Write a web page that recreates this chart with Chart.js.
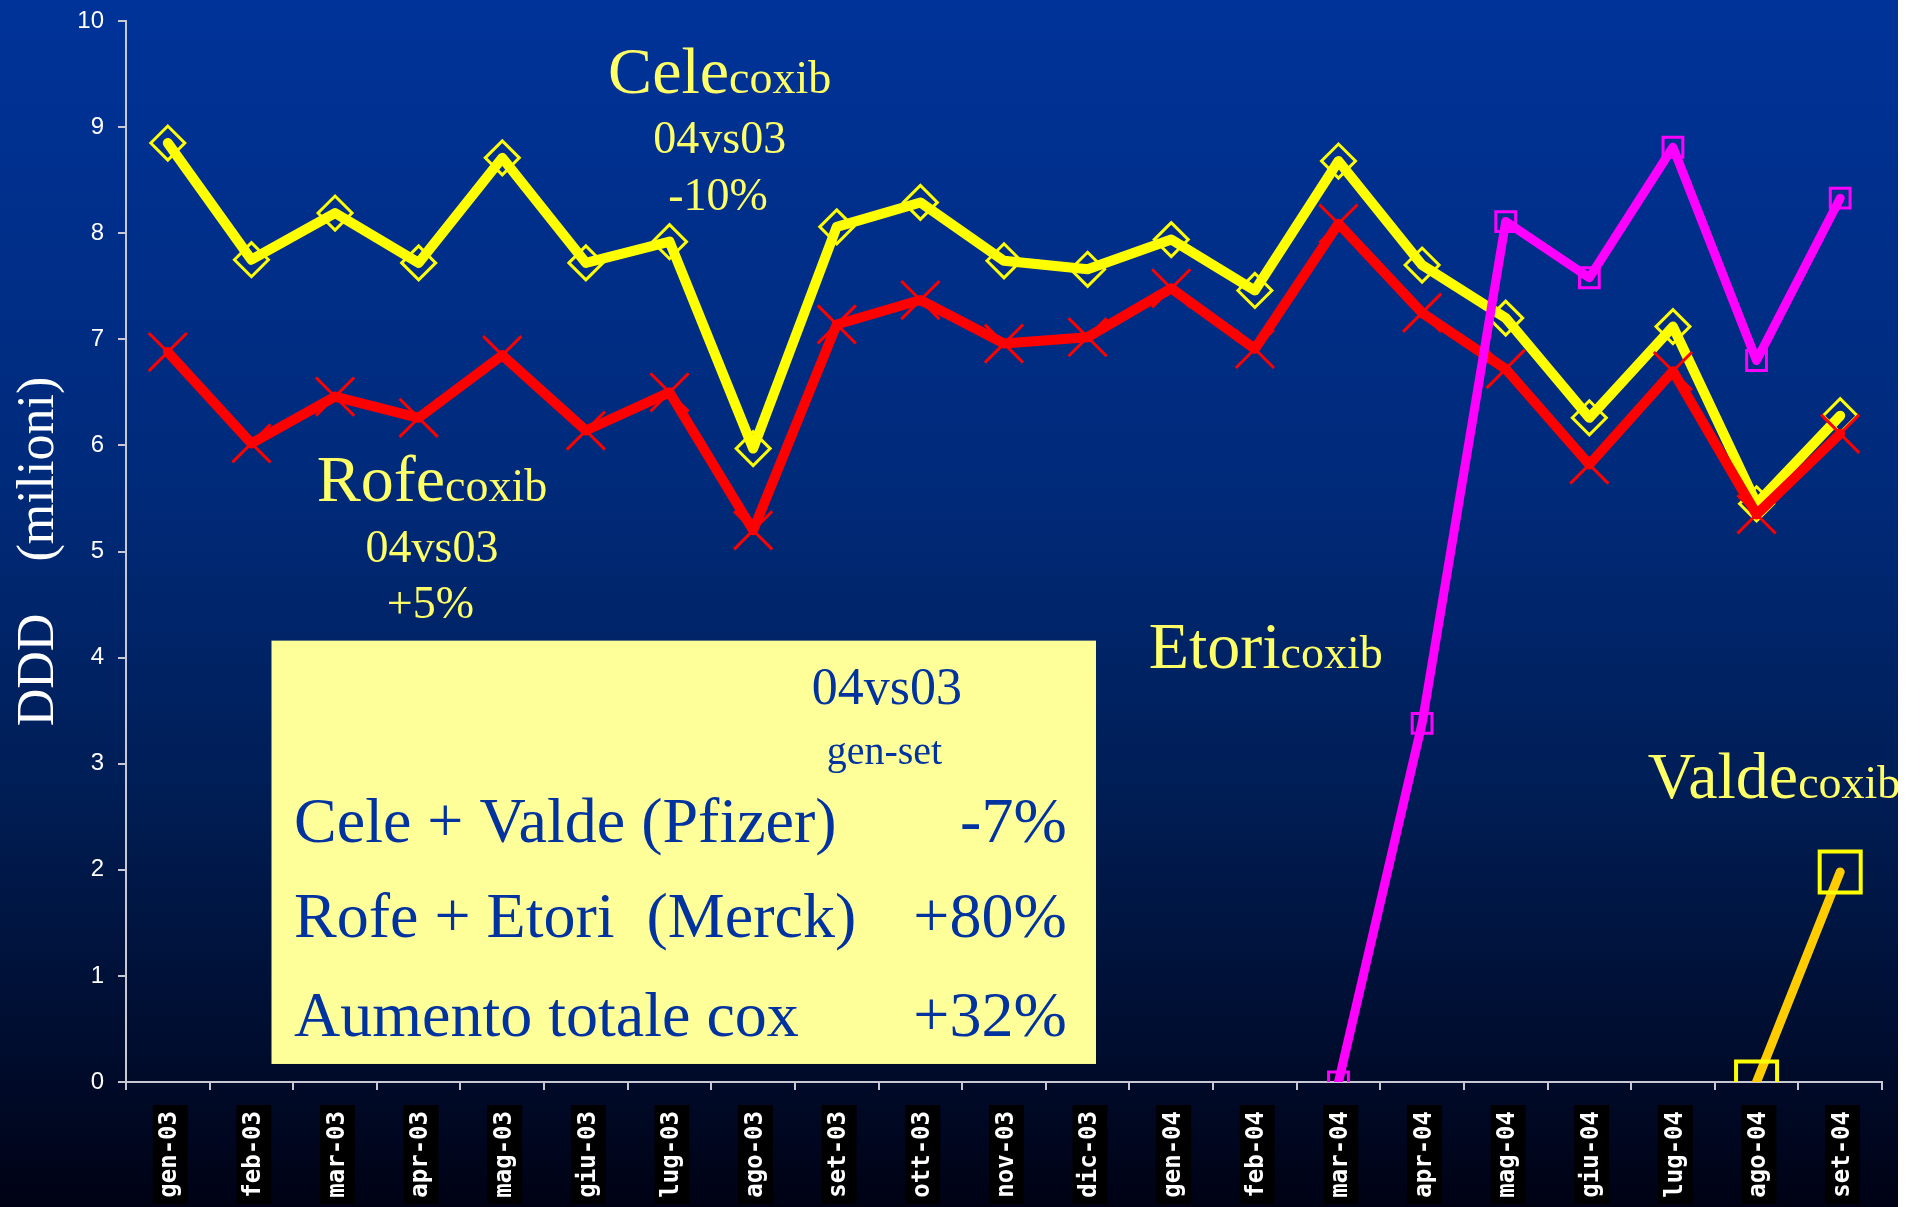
<!DOCTYPE html>
<html>
<head>
<meta charset="utf-8">
<script src="https://cdn.jsdelivr.net/npm/chart.js@4.4.1/dist/chart.umd.min.js"></script>
<style>
  html, body { margin: 0; padding: 0; background: #fff; }
  #wrap { width: 1898px; height: 1207px; position: relative; }
</style>
</head>
<body>
<div id="wrap"><canvas id="coxChart"></canvas></div>
<script>
// mesi (gen-03 ... set-04)
const mesi = [
    'gen-03', 'feb-03', 'mar-03', 'apr-03', 'mag-03', 'giu-03', 'lug-03',
    'ago-03', 'set-03', 'ott-03', 'nov-03', 'dic-03', 'gen-04', 'feb-04',
    'mar-04', 'apr-04', 'mag-04', 'giu-04', 'lug-04', 'ago-04', 'set-04'
];

// DDD in milioni
const celecoxib = [8.85, 7.75, 8.19, 7.72, 8.71, 7.72, 7.92, 5.97, 8.06, 8.29, 7.74,
    7.66, 7.94, 7.46, 8.68, 7.70, 7.20, 6.26, 7.12, 5.45, 6.28];
const rofecoxib = [6.88, 6.02, 6.46, 6.26, 6.85, 6.14, 6.50, 5.20, 7.14, 7.37, 6.96,
    7.02, 7.48, 6.91, 8.09, 7.25, 6.72, 5.82, 6.70, 5.35, 6.11];
const etoricoxib = [null, null, null, null, null, null, null, null, null, null, null,
    null, null, null, 0, 3.38, 8.11, 7.58, 8.81, 6.80, 8.33];
const valdecoxib = [null, null, null, null, null, null, null, null, null, null, null,
    null, null, null, null, null, null, null, null, 0, 1.98];

const yTicks = [0, 1, 2, 3, 4, 5, 6, 7, 8, 9, 10];

// riquadro riassuntivo
const boxHeader = ['04vs03', 'gen-set'];
const boxRows = [
    ['Cele + Valde (Pfizer)', '-7%'],
    ['Rofe + Etori  (Merck)', '+80%'],
    ['Aumento totale cox', '+32%']
];

const SERIF = '"Liberation Serif", "Times New Roman", serif';
const LABEL_YELLOW = '#ffff66';
const BOX_BLUE = '#0033a0';

const background = {
    id: 'background',
    beforeDraw(chart) {
        const { ctx, width, height } = chart;
        const g = ctx.createLinearGradient(0, 0, 0, height);
        g.addColorStop(0, 'rgb(0,51,153)');
        g.addColorStop(0.4, 'rgb(0,42,122)');
        g.addColorStop(0.65, 'rgb(0,30,86)');
        g.addColorStop(0.9, 'rgb(0,10,40)');
        g.addColorStop(1, 'rgb(0,2,20)');
        ctx.save();
        ctx.fillStyle = g;
        ctx.fillRect(0, 0, width, height);
        ctx.restore();
    }
};

// etichette dei farmaci e riquadro, ancorati alle scale
const annotations = {
    id: 'annotations',
    afterDraw(chart) {
        const { ctx } = chart;
        const xs = chart.scales.x, ys = chart.scales.y;
        const px = i => xs.getPixelForValue(i);
        const py = v => ys.getPixelForValue(v);

        ctx.save();
        ctx.textBaseline = 'alphabetic';

        const drug = (big, small, x, y, align) => {
            ctx.font = '66px ' + SERIF;
            const wb = ctx.measureText(big).width;
            ctx.font = '46px ' + SERIF;
            const ws = ctx.measureText(small).width;
            let left = px(x);
            if (align === 'center') left -= (wb + ws) / 2;
            ctx.fillStyle = LABEL_YELLOW;
            ctx.textAlign = 'left';
            ctx.font = '66px ' + SERIF;
            ctx.fillText(big, left, py(y));
            ctx.font = '46px ' + SERIF;
            ctx.fillText(small, left + wb, py(y));
        };
        const line = (text, x, y, size, color, align) => {
            ctx.font = size + 'px ' + SERIF;
            ctx.fillStyle = color;
            ctx.textAlign = align;
            ctx.fillText(text, px(x), py(y));
        };

        drug('Cele', 'coxib', 6.60, 9.32, 'center');
        line('04vs03', 6.60, 8.76, 46, LABEL_YELLOW, 'center');
        line('-10%', 6.58, 8.22, 46, LABEL_YELLOW, 'center');

        drug('Rofe', 'coxib', 3.16, 5.48, 'center');
        line('04vs03', 3.16, 4.90, 46, LABEL_YELLOW, 'center');
        line('+5%', 3.14, 4.37, 46, LABEL_YELLOW, 'center');

        drug('Etori', 'coxib', 13.13, 3.90, 'center');
        drug('Valde', 'coxib', 17.70, 2.68, 'left');

        // riquadro giallo
        const bx0 = px(1.24), bx1 = px(11.10), by0 = py(4.16), by1 = py(0.17);
        ctx.fillStyle = '#ffff99';
        ctx.fillRect(bx0, by0, bx1 - bx0, by1 - by0);

        line(boxHeader[0], 8.60, 3.56, 52, BOX_BLUE, 'center');
        line(boxHeader[1], 8.57, 3.00, 40, BOX_BLUE, 'center');
        const rowY = [2.26, 1.37, 0.43];
        boxRows.forEach((r, k) => {
            line(r[0], 1.51, rowY[k], 64, BOX_BLUE, 'left');
            line(r[1], 10.75, rowY[k], 64, BOX_BLUE, 'right');
        });
        ctx.restore();
    }
};

const dataCox = {
    labels: mesi,
    datasets: [
        {
            label: 'Celecoxib',
            data: celecoxib,
            borderColor: '#ffff00',
            borderWidth: 10,
            pointStyle: 'rectRot',
            pointRadius: 17,
            pointBorderWidth: 3,
            pointBorderColor: '#ffff00',
            pointBackgroundColor: 'rgba(0,0,0,0)',
            order: 2,
        },
        {
            label: 'Rofecoxib',
            data: rofecoxib,
            borderColor: '#ff0000',
            borderWidth: 10,
            pointStyle: 'crossRot',
            pointRadius: 27,
            pointBorderWidth: 3,
            pointBorderColor: '#ff0000',
            order: 1,
        },
        {
            label: 'Etoricoxib',
            data: etoricoxib,
            borderColor: '#ff00ff',
            borderWidth: 9,
            pointStyle: 'rect',
            pointRadius: 14,
            pointBorderWidth: 3,
            pointBorderColor: '#ff00ff',
            pointBackgroundColor: 'rgba(0,0,0,0)',
            order: 0,
        },
        {
            label: 'Valdecoxib',
            data: valdecoxib,
            borderColor: '#ffcc00',
            borderWidth: 9,
            pointStyle: 'rect',
            pointRadius: 29,
            pointBorderWidth: 4,
            pointBorderColor: '#ffff00',
            pointBackgroundColor: 'rgba(0,0,0,0)',
            order: 3,
        },
    ],
};

const configCox = {
    type: 'line',
    data: dataCox,
    options: {
        responsive: true,
        maintainAspectRatio: false,
        animation: false,
        events: [],
        layout: { autoPadding: false, padding: { top: 21, right: 16, left: 0, bottom: 0 } },
        elements: {
            line: { tension: 0, borderCapStyle: 'round', borderJoinStyle: 'round', fill: false },
        },
        plugins: {
            legend: { display: false },
            tooltip: { enabled: false },
        },
        scales: {
            x: {
                offset: true,
                grid: {
                    drawOnChartArea: false,
                    offset: true,
                    color: '#c8c8d4',
                    lineWidth: 2,
                    tickLength: 8,
                },
                border: { color: '#c8c8d4', width: 2 },
                ticks: {
                    autoSkip: false,
                    minRotation: 90,
                    maxRotation: 90,
                    color: '#ffffff',
                    padding: 21,
                    labelOffset: -12,
                    font: { family: '"DejaVu Sans Mono", monospace', weight: 'bold', size: 24 },
                    showLabelBackdrop: true,
                    backdropColor: '#000000',
                    backdropPadding: { top: 3, bottom: 3, left: 6, right: 6 },
                },
                afterFit: s => {
                    s.height = 125;
                    s.paddingLeft = 0;
                    s.paddingRight = 0;
                },
            },
            y: {
                min: yTicks[0],
                max: yTicks[yTicks.length - 1],
                afterBuildTicks: s => { s.ticks = yTicks.map(v => ({ value: v })); },
                grid: {
                    drawOnChartArea: false,
                    color: '#c8c8d4',
                    lineWidth: 2,
                    tickLength: 8,
                },
                border: { color: '#c8c8d4', width: 2 },
                ticks: {
                    color: '#ffffff',
                    padding: 14,
                    font: { family: '"Liberation Sans", Arial, sans-serif', size: 24 },
                },
                title: {
                    display: true,
                    text: 'DDD    (milioni)',
                    color: '#ffffff',
                    font: { family: SERIF, size: 52 },
                    padding: { top: 8, bottom: 0 },
                },
                afterFit: s => {
                    s.width = 126;
                    s.paddingTop = 0;
                    s.paddingBottom = 0;
                },
            },
        },
    },
    plugins: [background, annotations],
};

const ctx = document.getElementById('coxChart').getContext('2d');
new Chart(ctx, configCox);
</script>
</body>
</html>
